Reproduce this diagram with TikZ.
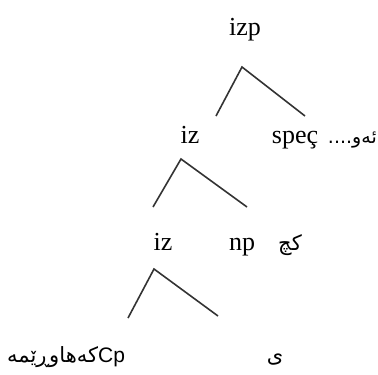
\documentclass[tikz,border=0pt]{standalone}
\usepackage{fontspec}
\setmainfont{Liberation Serif}
\newfontfamily\arabicfont[Script=Arabic]{DejaVu Sans}
\newfontfamily\latinsans{Liberation Sans}
\TeXXeTstate=1
\begin{document}
\begin{tikzpicture}[x=1pt,y=-1pt,
  lab/.style={font=\fontsize{26}{30}\selectfont, anchor=base, inner sep=0pt},
  ar/.style={font=\arabicfont\fontsize{21}{25}\selectfont, anchor=base, inner sep=0pt},
  br/.style={line width=1.6pt, draw=black!80, line join=miter}]
\useasboundingbox (0,0) rectangle (378,375);
% level 0
\node[lab] (izp) at (245,35) {izp};
\coordinate (v1) at (242,67);
\coordinate (l1) at (216,116);
\coordinate (r1) at (305,116);
\draw[br] (l1) -- (v1) -- (r1);
% level 1
\node[lab] (iz1) at (190,143) {iz};
\node[lab] (spec) at (295,143) {speç};
\node[ar, anchor=base east, font=\arabicfont\fontsize{19}{23}\selectfont] (aw) at (377,143) {\beginR ئەو....\endR};
\coordinate (v2) at (181,159);
\coordinate (l2) at (153,207);
\coordinate (r2) at (247,207);
\draw[br] (l2) -- (v2) -- (r2);
% level 2
\node[lab] (iz2) at (163,250) {iz};
\node[lab] (np) at (242,250) {np};
\node[ar] (kc) at (290,250) {\beginR کچ\endR};
\coordinate (v3) at (154,269);
\coordinate (l3) at (128,318);
\coordinate (r3) at (218,316);
\draw[br] (l3) -- (v3) -- (r3);
% level 3
\node[ar, anchor=base west] (cp) at (7,362) {\beginR\beginL{\latinsans Cp}\endL کەهاوڕێمە\endR};
\node[ar] (ye) at (275,362) {\beginR ی\endR};
\end{tikzpicture}
\end{document}
